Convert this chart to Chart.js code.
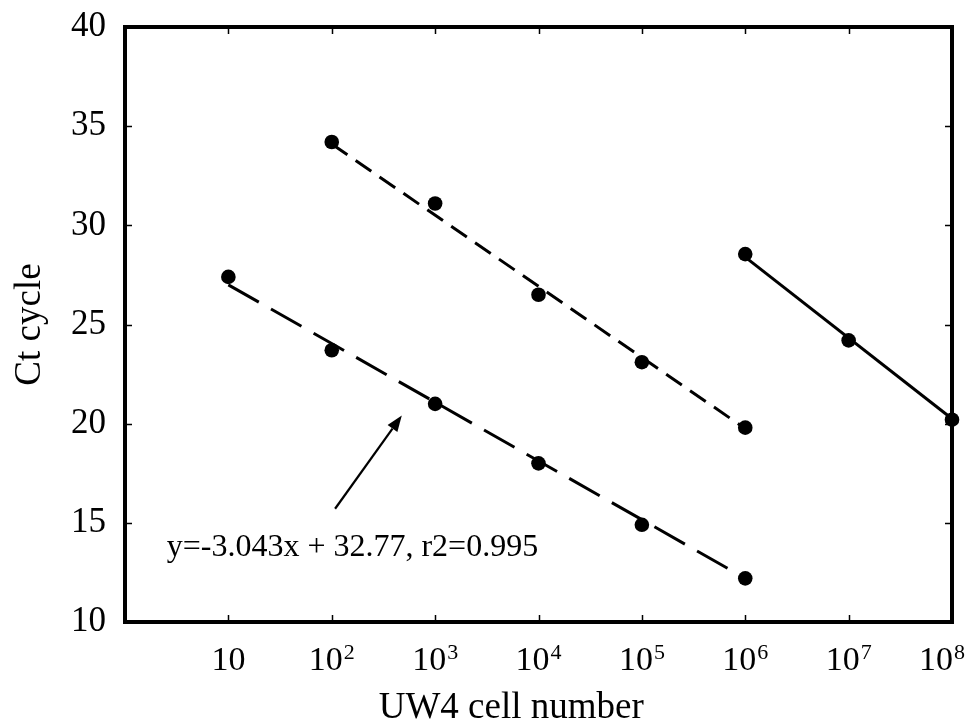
<!DOCTYPE html>
<html>
<head>
<meta charset="utf-8">
<script src="https://cdn.jsdelivr.net/npm/chart.js@4.4.1/dist/chart.umd.min.js"></script>
<style>
  html, body { margin: 0; padding: 0; background: #fff; }
  #wrap { width: 970px; height: 724px; }
</style>
</head>
<body>
<div id="wrap"><canvas id="c" width="970" height="724"></canvas></div>
<script>
const SERIF = '"Liberation Serif", "Times New Roman", Times, serif';

// Ct values for each dilution series (x = UW4 cell number)
const cellsA = [1e2, 1e3, 1e4, 1e5, 1e6];
const ctA = [34.2, 31.1, 26.5, 23.1, 19.8];

const cellsB = [1e1, 1e2, 1e3, 1e4, 1e5, 1e6];
const ctB = [27.4, 23.7, 21.0, 18.0, 14.9, 12.2];

const cellsC = [1e6, 1e7, 1e8];
const ctC = [28.55, 24.2, 20.2];

// end points of the fitted standard-curve lines
const fitAX = [1e2, 1e6];
const fitAY = [34.1, 19.75];
const fitBX = [1e1, 1e6];
const fitBY = [27.0, 12.2];
const fitCX = [1e6, 1e8];
const fitCY = [28.4, 20.25];

// axis ticks
const xTickValues = [1e1, 1e2, 1e3, 1e4, 1e5, 1e6, 1e7, 1e8];
const xTickBase = '10';
const xTickExponents = ['', '2', '3', '4', '5', '6', '7', '8'];
const yTickValues = [10, 15, 20, 25, 30, 35, 40];

const xTitle = 'UW4 cell number';
const yTitle = 'Ct cycle';
const fitLabel = 'y=-3.043x + 32.77, r2=0.995';

const pts = (xs, ys) => xs.map((v, i) => ({ x: v, y: ys[i] }));

const fitLine = (xs, ys, dash) => ({
  data: pts(xs, ys),
  showLine: true,
  borderColor: '#000',
  borderWidth: 3,
  borderDash: dash,
  pointRadius: 0,
  pointHoverRadius: 0,
  fill: false,
  order: 2,
  clip: false
});

const markers = (xs, ys) => ({
  data: pts(xs, ys),
  showLine: false,
  pointRadius: 7.3,
  pointHoverRadius: 7.3,
  pointBackgroundColor: '#000',
  pointBorderWidth: 0,
  order: 1,
  clip: false
});

// frame, inward ticks, x tick labels with exponents, x title, fit annotation with arrow
const decorations = {
  id: 'decorations',
  afterDraw(chart) {
    const { ctx, chartArea: a, scales: { x, y } } = chart;
    ctx.save();
    ctx.strokeStyle = '#000';
    ctx.fillStyle = '#000';

    // inward tick marks on all four sides
    ctx.lineWidth = 1.5;
    ctx.beginPath();
    xTickValues.forEach(v => {
      const px = Math.round(x.getPixelForValue(v)) + 0.5;
      if (px >= a.right - 2) return;
      ctx.moveTo(px, a.bottom); ctx.lineTo(px, a.bottom - 7);
      ctx.moveTo(px, a.top); ctx.lineTo(px, a.top + 7);
    });
    yTickValues.forEach(v => {
      const py = Math.round(y.getPixelForValue(v)) + 0.5;
      if (py <= a.top + 2 || py >= a.bottom - 2) return;
      ctx.moveTo(a.left, py); ctx.lineTo(a.left + 7, py);
      ctx.moveTo(a.right, py); ctx.lineTo(a.right - 7, py);
    });
    ctx.stroke();

    // heavy box around the plot area
    ctx.lineWidth = 4;
    ctx.lineJoin = 'miter';
    ctx.strokeRect(a.left, a.top, a.right - a.left, a.bottom - a.top);

    // x tick labels: 10, 10², ... 10⁸
    const baseFont = '34px ' + SERIF;
    const expFont = '22px ' + SERIF;
    ctx.textBaseline = 'alphabetic';
    ctx.textAlign = 'left';
    xTickValues.forEach((v, i) => {
      const px = x.getPixelForValue(v);
      ctx.font = baseFont;
      const wb = ctx.measureText(xTickBase).width;
      ctx.font = expFont;
      const exp = xTickExponents[i];
      const we = exp ? ctx.measureText(exp).width + 1 : 0;
      let left = px - (wb + we) / 2;
      const maxRight = chart.width - 5;
      if (left + wb + we > maxRight) left = maxRight - wb - we;
      ctx.font = baseFont;
      ctx.fillText(xTickBase, left, a.bottom + 48);
      if (exp) {
        ctx.font = expFont;
        ctx.fillText(exp, left + wb + 1, a.bottom + 37);
      }
    });

    // x axis title
    ctx.font = '37px ' + SERIF;
    ctx.textAlign = 'center';
    ctx.fillText(xTitle, a.left + (a.right - a.left) * 0.467, a.bottom + 96);

    // regression equation for the lower series
    ctx.font = '32px ' + SERIF;
    ctx.textAlign = 'left';
    ctx.fillText(fitLabel, x.getPixelForValue(2.53), y.getPixelForValue(13.33));

    // arrow pointing at the lower fit line
    const x0 = x.getPixelForValue(107.7), y0 = y.getPixelForValue(15.71);
    const x1 = x.getPixelForValue(476), y1 = y.getPixelForValue(20.41);
    const ang = Math.atan2(y1 - y0, x1 - x0);
    const headLen = 16, headHalf = 6;
    const bx = x1 - headLen * Math.cos(ang), by = y1 - headLen * Math.sin(ang);
    ctx.lineWidth = 2.2;
    ctx.beginPath();
    ctx.moveTo(x0, y0);
    ctx.lineTo(bx, by);
    ctx.stroke();
    ctx.beginPath();
    ctx.moveTo(x1, y1);
    ctx.lineTo(bx + headHalf * Math.sin(ang), by - headHalf * Math.cos(ang));
    ctx.lineTo(bx - headHalf * Math.sin(ang), by + headHalf * Math.cos(ang));
    ctx.closePath();
    ctx.fill();

    ctx.restore();
  }
};

new Chart(document.getElementById('c'), {
  type: 'scatter',
  data: {
    datasets: [
      fitLine(fitAX, fitAY, [19, 10]),
      fitLine(fitBX, fitBY, [35, 14]),
      fitLine(fitCX, fitCY, []),
      markers(cellsA, ctA),
      markers(cellsB, ctB),
      markers(cellsC, ctC)
    ]
  },
  options: {
    responsive: false,
    animation: false,
    devicePixelRatio: 1,
    layout: { padding: { top: 27, right: 18, left: 0, bottom: 0 } },
    plugins: { legend: { display: false }, tooltip: { enabled: false } },
    scales: {
      x: {
        type: 'logarithmic',
        min: 1,
        max: 1e8,
        position: 'bottom',
        grid: { display: false },
        border: { display: true, width: 4, color: '#000' },
        ticks: { display: false },
        afterBuildTicks: s => { s.ticks = xTickValues.map(v => ({ value: v })); },
        afterFit: s => { s.height = 102; s.paddingLeft = 0; s.paddingRight = 0; }
      },
      y: {
        min: 10,
        max: 40,
        grid: { display: false, drawTicks: false },
        border: { display: true, width: 4, color: '#000' },
        afterBuildTicks: s => { s.ticks = yTickValues.map(v => ({ value: v })); },
        ticks: {
          color: '#000',
          font: { family: SERIF, size: 35 },
          padding: 19
        },
        title: {
          display: true,
          text: yTitle,
          color: '#000',
          font: { family: SERIF, size: 37 },
          padding: { top: 8, bottom: 0 }
        },
        afterFit: s => { s.width = 125; s.paddingTop = 0; s.paddingBottom = 0; }
      }
    }
  },
  plugins: [decorations]
});
</script>
</body>
</html>
